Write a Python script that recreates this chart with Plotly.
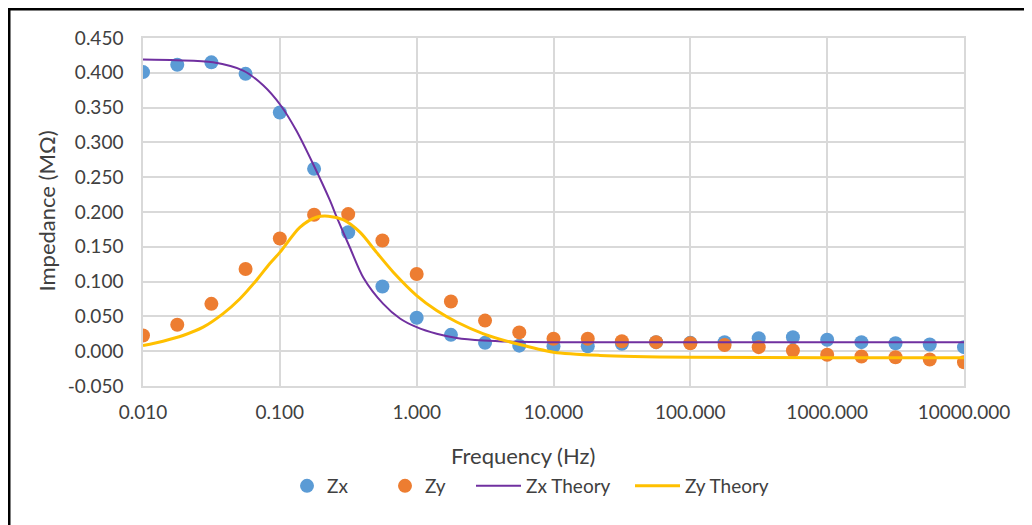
import plotly.graph_objects as go

# Measured data (frequency in Hz, impedance in MOhm)
freq = [0.01, 0.0178, 0.0316, 0.0562, 0.1, 0.178, 0.316, 0.562, 1.0, 1.78, 3.16, 5.62,
        10, 17.8, 31.6, 56.2, 100, 178, 316, 562, 1000, 1780, 3160, 5620, 10000]
zx = [0.401, 0.4115, 0.415, 0.3985, 0.343, 0.262, 0.171, 0.093, 0.048, 0.0235, 0.012, 0.008,
      0.007, 0.007, 0.0106, 0.013, 0.012, 0.013, 0.0187, 0.020, 0.0164, 0.013, 0.0115, 0.0096, 0.0058]
zy = [0.0226, 0.038, 0.068, 0.118, 0.162, 0.196, 0.197, 0.159, 0.111, 0.0714, 0.044, 0.027,
      0.0178, 0.0178, 0.0144, 0.013, 0.0115, 0.009, 0.0058, 0.001, -0.005, -0.0077, -0.0086, -0.012, -0.0158]

# Theory curves
freq_zx_th = [0.01, 0.0175, 0.0325, 0.054, 0.0755, 0.1016, 0.132, 0.175, 0.232, 0.26, 0.325,
              0.407, 0.57, 0.755, 1.0, 1.4, 1.96, 3.08, 5.4, 9.46, 100, 10000]
zx_th = [0.419, 0.418, 0.415, 0.403, 0.382, 0.353, 0.317, 0.269, 0.217, 0.193, 0.149,
         0.106, 0.068, 0.047, 0.0345, 0.025, 0.019, 0.0154, 0.0135, 0.013, 0.013, 0.013]

freq_zy_th = [0.01, 0.014, 0.0196, 0.0275, 0.0385, 0.0509, 0.0675, 0.0845, 0.1, 0.14, 0.185,
              0.226, 0.29, 0.385, 0.509, 0.675, 1.0, 1.4, 1.96, 3.08, 5.4, 10, 21.9, 100, 1000, 10000]
zy_th = [0.008, 0.0144, 0.0226, 0.0345, 0.054, 0.075, 0.102, 0.126, 0.142, 0.178, 0.1925,
         0.194, 0.189, 0.171, 0.142, 0.1135, 0.080, 0.0585, 0.042, 0.025, 0.0106, -0.0014,
         -0.006, -0.0086, -0.0093, -0.0095]

x_tickvals = [0.01, 0.1, 1, 10, 100, 1000, 10000]
x_ticktext = ["0.010", "0.100", "1.000", "10.000", "100.000", "1000.000", "10000.000"]
y_tickvals = [-0.05, 0.0, 0.05, 0.1, 0.15, 0.2, 0.25, 0.3, 0.35, 0.4, 0.45]
y_ticktext = ["-0.050", "0.000", "0.050", "0.100", "0.150", "0.200", "0.250",
              "0.300", "0.350", "0.400", "0.450"]

FONT = "Lato, Carlito, Calibri, sans-serif"
TXT = "#404040"
GRID = "#d9d9d9"

# Figure sits at page offset (8, 8); all pixel positions below are page coords
OFF = 8
W, H = 1024, 517
L, R, T, B = 135, 68, 30, 139
pw, ph = W - L - R, H - T - B


def px(x):
    return (x - OFF - L) / pw


def py(y):
    return (H - B - (y - OFF)) / ph


fig = go.Figure()
fig.add_trace(go.Scatter(x=freq, y=zx, mode="markers", name="Zx", legend="legend",
                         marker=dict(color="#5b9bd5", size=14)))
fig.add_trace(go.Scatter(x=freq, y=zy, mode="markers", name="Zy", legend="legend2",
                         marker=dict(color="#ed7d31", size=14)))
fig.add_trace(go.Scatter(x=freq_zx_th, y=zx_th, mode="lines", name="Zx Theory", legend="legend3",
                         line=dict(color="#7030a0", width=2, shape="spline", smoothing=0.8)))
fig.add_trace(go.Scatter(x=freq_zy_th, y=zy_th, mode="lines", name="Zy Theory", legend="legend4",
                         line=dict(color="#ffc000", width=3, shape="spline", smoothing=0.8)))

leg_common = dict(orientation="h", yanchor="middle", xanchor="left",
                  font=dict(size=19, color=TXT), bgcolor="rgba(0,0,0,0)")

fig.update_layout(
    width=W, height=H,
    margin=dict(l=L, r=R, t=T, b=B),
    paper_bgcolor="white", plot_bgcolor="white",
    font=dict(family=FONT, size=19, color=TXT),
    showlegend=True,
    legend=dict(x=px(287), y=py(486), itemwidth=30, **leg_common),
    legend2=dict(x=px(385), y=py(486), itemwidth=30, **leg_common),
    legend3=dict(x=px(471), y=py(486), itemwidth=45, **leg_common),
    legend4=dict(x=px(630), y=py(486), itemwidth=45, **leg_common),
    xaxis=dict(type="log", range=[-2, 4], tickvals=x_tickvals, ticktext=x_ticktext,
               showgrid=True, gridcolor=GRID, gridwidth=1.5,
               showline=True, linecolor=GRID, linewidth=1.5, mirror=True,
               zeroline=False, ticks="", ticklabelstandoff=8,
               tickfont=dict(size=19, color=TXT)),
    yaxis=dict(range=[-0.05, 0.45], tickvals=y_tickvals, ticktext=y_ticktext,
               showgrid=True, gridcolor=GRID, gridwidth=1.5,
               showline=True, linecolor=GRID, linewidth=1.5, mirror=True,
               zeroline=False, ticks="", ticklabelstandoff=14,
               tickfont=dict(size=19, color=TXT)),
    annotations=[
        dict(text="Frequency (Hz)", x=px(523), y=py(455), xref="paper", yref="paper",
             showarrow=False, xanchor="center", yanchor="middle",
             font=dict(size=22, color=TXT)),
        dict(text="Impedance (MΩ)", x=px(46), y=py(211.5), xref="paper", yref="paper",
             showarrow=False, xanchor="center", yanchor="middle", textangle=-90,
             font=dict(size=22, color=TXT)),
    ],
    shapes=[
        dict(type="line", xref="paper", yref="paper", x0=px(9), x1=px(9), y0=py(8), y1=py(540),
             line=dict(color="black", width=3)),
        dict(type="line", xref="paper", yref="paper", x0=px(8), x1=px(1045), y0=py(9), y1=py(9),
             line=dict(color="black", width=3)),
    ],
)

fig.write_html("out.html")
